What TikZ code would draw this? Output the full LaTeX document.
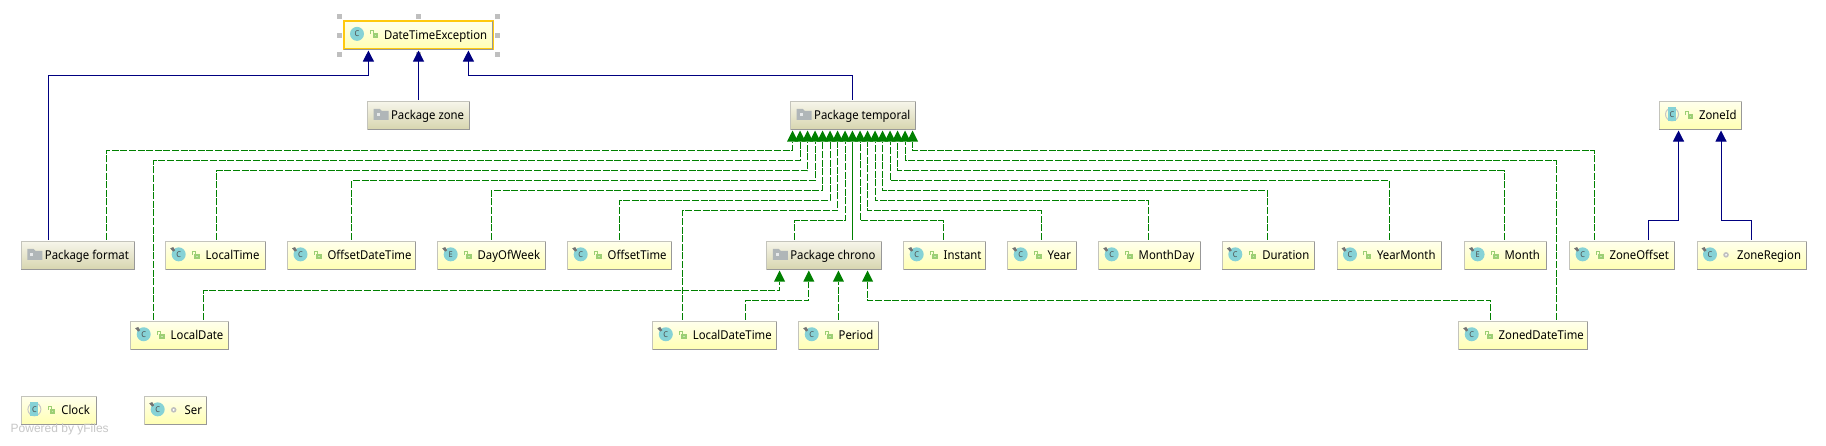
\documentclass[tikz,border=0pt]{standalone}
\usepackage{fontspec}
\setmainfont[FakeStretch=0.93]{Noto Sans}
\newfontfamily\yfont{Liberation Sans}
\usetikzlibrary{arrows.meta,calc}
\definecolor{inhblue}{HTML}{000080}
\definecolor{depgreen}{HTML}{008000}
\definecolor{yeltop}{HTML}{FFFFEC}
\definecolor{yelbot}{HTML}{FFFFB4}
\definecolor{pkgtop}{HTML}{F6F5EA}
\definecolor{pkgbot}{HTML}{D8D6B0}
\definecolor{boxedge}{HTML}{C4C4BC}
\definecolor{boxshade}{HTML}{989898}
\definecolor{teal}{HTML}{86D2D6}
\definecolor{lockg}{HTML}{9CCF74}
\definecolor{folderg}{HTML}{B0B6B8}
\definecolor{selc}{HTML}{FFC90E}
\tikzset{
  x=1pt,y=-1pt,
  basebox/.style={rectangle,inner sep=0pt,outer sep=0pt,line width=1pt,draw=boxedge,text height=10.5pt,text depth=2pt,font=\fontsize{12.2}{14}\selectfont,text=black},
  clsbox/.style={basebox,top color=yeltop,bottom color=yelbot},
  pkgbox/.style={basebox,top color=pkgtop,bottom color=pkgbot},
  selbox/.style={clsbox,draw=selc,line width=2pt},
  inh/.style={draw=inhblue,line width=1pt,-{Triangle[length=11pt,width=11pt,fill=inhblue]},shorten >=1.5pt,shorten <=2pt},
  dep/.style={draw=depgreen,line width=1pt,dash pattern=on 7pt off 1.6pt,-{Triangle[length=11pt,width=11pt,fill=depgreen,line width=0pt]},shorten >=1.5pt,shorten <=2pt},
  handle/.style={fill=black!25},
}
% \bx{style}{name}{x1}{x2}{y1}{y2}{text offset}{text}
\newcommand{\bx}[8]{%
  \pgfmathsetmacro{\bw}{#4-#3}\pgfmathsetmacro{\bh}{#6-#5}%
  \node[#1,minimum width=\bw pt,minimum height=\bh pt] (#2) at ({(#3+#4)/2},{(#5+#6)/2}) {\makebox[\bw pt][l]{\hspace*{#7pt}#8}};
  \draw[boxshade,line width=1pt] (#2.north east) -- (#2.south east) -- (#2.south west);
}
\newcommand{\cbx}[6]{\bx{clsbox}{#1}{#2}{#3}{#4}{#5}{40}{#6}}
\newcommand{\pbx}[6]{\bx{pkgbox}{#1}{#2}{#3}{#4}{#5}{23.5}{#6}}
% icons, placed relative to the west anchor of a box
\newcommand{\lockic}[1]{\begin{scope}[shift={(#1.west)},shift={(27,-0.5)}]
  \fill[lockg] (1.5,-1) rectangle (7,4);
  \draw[lockg,line width=1.1pt] (2.8,-1) -- (2.8,-3.6) -- (-0.2,-3.6) -- (-0.2,0);
  \fill[white!45!lockg] (3.6,0.8) rectangle (5,2);
\end{scope}}
\newcommand{\dotic}[1]{\begin{scope}[shift={(#1.west)},shift={(29,-0.5)}]
  \fill[black!25] (0,0) circle (2.8); \fill[white] (0,0) circle (1.1);
\end{scope}}
\newcommand{\pinic}[1]{\begin{scope}[shift={(#1.west)},shift={(12.5,-1)}]
  \fill[black!55] (-8,-6) -- (-5,-7.3) -- (-3,-4) -- (-5,-2.7) -- cycle;
\end{scope}}
\newcommand{\circic}[2]{\begin{scope}[shift={(#1.west)},shift={(13,-1)}]
  \fill[teal] (0,0) circle (7);
  \node[font=\fontsize{8}{8}\selectfont\bfseries,text=black!70,inner sep=0pt] (#1ic) at (0,0) {#2};
\end{scope}}
\newcommand{\absic}[1]{\begin{scope}[shift={(#1.west)},shift={(13,-1)}]
  \draw[black!22,line width=1pt] (0,0) circle (6.5);
  \fill[teal] (-4,-7) rectangle (4,7);
  \node[font=\fontsize{8}{8}\selectfont\bfseries,text=black!70,inner sep=0pt] (#1ic) at (0,0) {C};
\end{scope}}
\newcommand{\folderic}[1]{\begin{scope}[shift={(#1.west)},shift={(6,-1)}]
  \fill[folderg] (0,-5.5) -- (6,-5.5) -- (8,-3.5) -- (15,-3.5) -- (15,5.5) -- (0,5.5) -- cycle;
  \fill[white!70!folderg] (3,-1) rectangle (6,2);
\end{scope}}
\newcommand{\clsic}[2]{\circic{#1}{#2}\pinic{#1}\lockic{#1}}
% \depe{src}{sx}{my}{tx}{dst}: realization edge
\newcommand{\depe}[5]{\draw[dep] (#2,0 |- #1.north) -- (#2,#3) -- (#4,#3) -- (#4,0 |- #5.south);}
\newcommand{\inhe}[5]{\draw[inh] (#2,0 |- #1.north) -- (#2,#3) -- (#4,#3) -- (#4,0 |- #5.south);}
\begin{document}
\begin{tikzpicture}
\useasboundingbox (0,0) rectangle (1826,445);
\fill[white] (0,0) rectangle (1826,445);
% boxes
\bx{selbox}{dte}{344}{492.5}{20.7}{49}{40}{DateTimeException}
\foreach \hx in {339.7,418.7,497.7} \foreach \hy in {16.3,35.3,54.3} {
  \ifdim\hx pt=418.7pt\ifdim\hy pt=35.3pt\else\fill[handle] (\hx-2.5,\hy-2.5) rectangle (\hx+2.5,\hy+2.5);\fi
  \else\fill[handle] (\hx-2.5,\hy-2.5) rectangle (\hx+2.5,\hy+2.5);\fi
}
\pbx{pzone}{367.6}{469}{101.7}{129}{Package zone}
\pbx{ptemp}{790.7}{915}{101.7}{129}{Package temporal}
\cbx{zoneid}{1659}{1741}{101.7}{129}{ZoneId}
\pbx{pformat}{21.4}{134}{241.7}{269}{Package format}
\cbx{ltime}{165.7}{265.3}{241.7}{269}{LocalTime}
\cbx{odt}{287.5}{415}{241.7}{269}{OffsetDateTime}
\cbx{dow}{437.7}{545}{241.7}{269}{DayOfWeek}
\cbx{otime}{567.7}{671}{241.7}{269}{OffsetTime}
\pbx{pchrono}{766.8}{881.2}{241.7}{269}{Package chrono}
\cbx{instant}{903.7}{985.5}{241.7}{269}{Instant}
\cbx{year}{1007.7}{1076}{241.7}{269}{Year}
\cbx{mday}{1098.7}{1200}{241.7}{269}{MonthDay}
\cbx{dur}{1222.3}{1314.6}{241.7}{269}{Duration}
\cbx{ym}{1337}{1441.7}{241.7}{269}{YearMonth}
\cbx{month}{1464.6}{1546.4}{241.7}{269}{Month}
\cbx{zoff}{1569.6}{1674.3}{241.7}{269}{ZoneOffset}
\cbx{zreg}{1697}{1806.8}{241.7}{269}{ZoneRegion}
\cbx{ldate}{130.7}{228.4}{321.5}{349}{LocalDate}
\cbx{ldt}{652.8}{776}{321.5}{349}{LocalDateTime}
\cbx{period}{798.7}{878}{321.5}{349}{Period}
\cbx{zdt}{1458.7}{1587.7}{321.5}{349}{ZonedDateTime}
\cbx{clock}{21.4}{96.9}{396.7}{424}{Clock}
\cbx{ser}{144.7}{206}{396.7}{424}{Ser}
% icons
\circic{dte}{C}\lockic{dte}
\folderic{pzone}\folderic{ptemp}\folderic{pformat}\folderic{pchrono}
\absic{zoneid}\lockic{zoneid}\absic{clock}\lockic{clock}
\clsic{ltime}{C}\clsic{odt}{C}\clsic{dow}{E}\clsic{otime}{C}\clsic{instant}{C}
\clsic{year}{C}\clsic{mday}{C}\clsic{dur}{C}\clsic{ym}{C}\clsic{month}{E}\clsic{zoff}{C}
\clsic{ldate}{C}\clsic{ldt}{C}\clsic{period}{C}\clsic{zdt}{C}
\circic{zreg}{C}\pinic{zreg}\dotic{zreg}\circic{ser}{C}\pinic{ser}\dotic{ser}
% inheritance
\inhe{pformat}{48.2}{75.7}{368.4}{dte}
\draw[inh] (418.5,0 |- pzone.north) -- (418.5,0 |- dte.south);
\inhe{ptemp}{852.4}{75.7}{468.4}{dte}
\inhe{zoff}{1648.7}{220.3}{1678.5}{zoneid}
\inhe{zreg}{1751}{220.3}{1721}{zoneid}
% realizations into Package temporal
\depe{pformat}{106.2}{150.7}{792.5}{ptemp}
\depe{ldate}{153.7}{160.7}{800}{ptemp}
\depe{ltime}{216}{170.7}{807.5}{ptemp}
\depe{odt}{351.7}{180.7}{815}{ptemp}
\depe{dow}{491.4}{190.7}{822.5}{ptemp}
\depe{otime}{619.3}{200.5}{830}{ptemp}
\depe{ldt}{682.4}{210.7}{837.5}{ptemp}
\depe{pchrono}{794.4}{220.7}{845}{ptemp}
\draw[dep,dash pattern=] (852.4,0 |- pchrono.north) -- (852.4,0 |- ptemp.south);
\depe{instant}{943.5}{220.7}{860}{ptemp}
\depe{year}{1041}{210.7}{867.5}{ptemp}
\depe{mday}{1148.5}{200.5}{875}{ptemp}
\depe{dur}{1267.7}{190.7}{882.5}{ptemp}
\depe{ym}{1389}{180.7}{890}{ptemp}
\depe{month}{1504}{170.7}{897.5}{ptemp}
\depe{zdt}{1556.3}{160.7}{905}{ptemp}
\depe{zoff}{1594.4}{150.7}{912.5}{ptemp}
% realizations into Package chrono
\depe{ldate}{203.5}{290.7}{779.6}{pchrono}
\depe{ldt}{745.4}{300.5}{808.8}{pchrono}
\draw[dep] (838.4,0 |- period.north) -- (838.4,0 |- pchrono.south);
\depe{zdt}{1490.7}{300.5}{867.6}{pchrono}
% watermark
\node[font=\yfont\fontsize{12}{14}\selectfont,text=black!22,anchor=west,inner sep=0pt] (yf) at (10.5,429) {Powered by yFiles};
\end{tikzpicture}
\end{document}
